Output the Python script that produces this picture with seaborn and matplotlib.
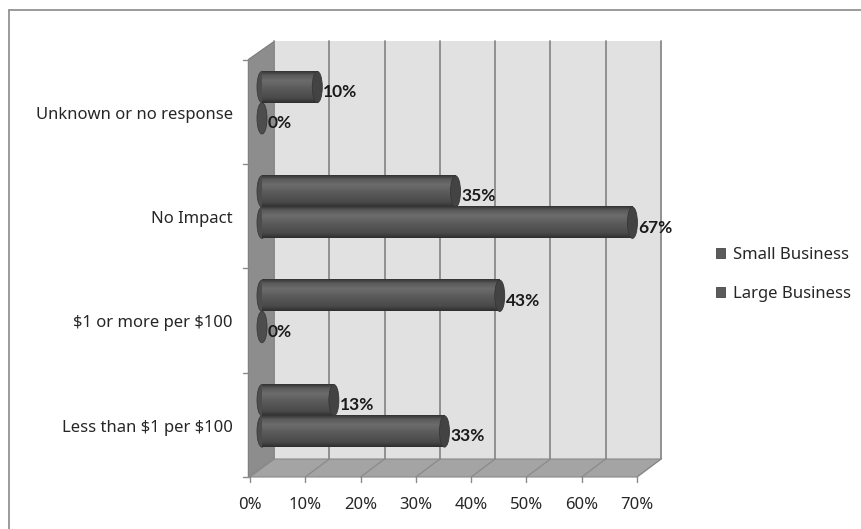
import numpy as np
import pandas as pd
import matplotlib
matplotlib.use("Agg")
import matplotlib.pyplot as plt
import seaborn as sns
from matplotlib.patches import Polygon, Ellipse, Patch
from matplotlib.lines import Line2D
from matplotlib.colors import LinearSegmentedColormap

# ---- data ----
categories = ["Unknown or no response", "No Impact",
              "$1 or more per $100", "Less than $1 per $100"]
series = ["Small Business", "Large Business"]
small_business = [10, 35, 43, 13]
large_business = [0, 67, 0, 33]
x_ticks = [0, 10, 20, 30, 40, 50, 60, 70]

df = pd.DataFrame({
    "category": categories * 2,
    "business": [series[0]] * len(categories) + [series[1]] * len(categories),
    "value": small_business + large_business,
})

sns.set_theme(style="white")
plt.rcParams["font.family"] = ["Noto Sans", "DejaVu Sans"]
FS = 12

W, H = 862, 529
fig = plt.figure(figsize=(W / 100, H / 100), dpi=100)

# middle (bar) plane of the pseudo-3D box, in pixels
x0p, x1p = 262, 649
y0p, y1p = 50.5, 468
ax = fig.add_axes([x0p / W, 1 - y1p / H, (x1p - x0p) / W, (y1p - y0p) / H])

BAR = "#575757"
sns.barplot(data=df, y="category", x="value", hue="business",
            order=categories, hue_order=series, orient="h",
            palette=[BAR, BAR], width=0.6, saturation=1, linewidth=0,
            legend=False, ax=ax)

XMAX = 70
ax.set_xlim(0, XMAX)
ax.set_ylim(3.5, -0.5)
ax.set_axis_off()

sx = (x1p - x0p) / XMAX          # px per percent
sy = (y1p - y0p) / 4             # px per category
DX, DY = 12 / sx, 9 / sy         # half depth of the box in data units


def back(x, y):
    return (x + DX, y - DY)


def front(x, y):
    return (x - DX, y + DY)


kw = dict(clip_on=False)
# back wall
ax.add_patch(Polygon([back(0, -0.5), back(XMAX, -0.5), back(XMAX, 3.5), back(0, 3.5)],
                     closed=True, fc="#e1e1e1", ec="none", zorder=0.1, **kw))
# left side wall
ax.add_patch(Polygon([front(-0.3, -0.5), back(0, -0.5), back(0, 3.5), front(-0.3, 3.5)],
                     closed=True, fc="#8d8d8d", ec="#7c7c7c", lw=0.8, zorder=0.2, **kw))
# floor
ax.add_patch(Polygon([front(-0.3, 3.5), front(XMAX, 3.5), back(XMAX, 3.5), back(0, 3.5)],
                     closed=True, fc="#a4a4a4", ec="#8a8a8a", lw=0.8, zorder=0.2, **kw))
# gridlines on back wall and floor
for v in x_ticks:
    bx0, by0 = back(v, -0.5)
    bx1, by1 = back(v, 3.5)
    ax.add_line(Line2D([bx0, bx1], [by0, by1], color="#8a8a8a", lw=1.3, zorder=0.3, **kw))
    fx, fy = front(v, 3.5)
    ax.add_line(Line2D([fx, bx1], [fy, by1], color="#8a8a8a", lw=0.9, zorder=0.3, **kw))
    # tick mark and label on the front edge
    ax.add_line(Line2D([fx, fx], [fy, fy + 5 / sy], color="#8a8a8a", lw=1, zorder=0.3, **kw))
    ax.annotate(f"{v}%", xy=(fx, fy), xytext=(0, -28), textcoords="offset pixels",
                ha="center", va="center", fontsize=FS, color="#262626",
                annotation_clip=False)

# category tick marks on the side wall
for k in range(len(categories) + 1):
    fx, fy = front(0, -0.5 + k)
    ax.add_line(Line2D([fx - 7 / sx, fx], [fy, fy], color="#8a8a8a", lw=1, zorder=0.3, **kw))

# category labels
for i, cat in enumerate(categories):
    fx, fy = front(0, i)
    ax.annotate(cat, xy=(fx, fy), xytext=(-17, -3), textcoords="offset pixels",
                ha="right", va="center", fontsize=FS, color="#262626",
                parse_math=False, annotation_clip=False)

# cylinder shading
cyl = LinearSegmentedColormap.from_list(
    "cyl", [(0.0, "#333333"), (0.12, "#5a5a5a"), (0.3, "#6c6c6c"),
            (0.55, "#5a5a5a"), (0.85, "#4a4a4a"), (1.0, "#2e2e2e")])
grad = np.linspace(0, 1, 64).reshape(-1, 1)
capw = 10 / sx

for container, vals in zip(ax.containers, [small_business, large_business]):
    for rect, val in zip(container.patches, vals):
        x, y = rect.get_x(), rect.get_y()
        w, h = rect.get_width(), rect.get_height()
        yc = y + h / 2
        ax.add_patch(Ellipse((x, yc), capw, h, fc="#4d4d4d", ec="#3a3a3a",
                             lw=0.6, zorder=2.6, clip_on=False))
        if w > 0:
            ax.imshow(grad, extent=(x, x + w, y + h, y), cmap=cyl, aspect="auto",
                      interpolation="bicubic", zorder=2.7, origin="upper")
            ax.add_patch(Ellipse((x + w, yc), capw, h, fc="#434343", ec="#363636",
                                 lw=0.6, zorder=2.8, clip_on=False))
        ax.annotate(f"{val}%", xy=(x + w, yc), xytext=(6, -5), textcoords="offset pixels",
                    ha="left", va="center", fontsize=12.5, fontweight="bold",
                    family=["Lato", "DejaVu Sans"], color="#1a1a1a",
                    annotation_clip=False)

ax.set_xlim(0, XMAX)
ax.set_ylim(3.5, -0.5)

# legend
handles = [Patch(fc="#5b5b5b", ec="#444444", lw=0.6, label=s) for s in series]
fig.legend(handles=handles, loc="upper left", bbox_to_anchor=(716 / W, 1 - 247 / H),
           frameon=False, handlelength=0.55, handleheight=0.55, handletextpad=0.45,
           labelspacing=1.35, fontsize=FS, borderpad=0, borderaxespad=0)

# chart area border
fig.add_artist(Line2D([9.5 / W, 9.5 / W], [0, 1 - 9.5 / H], color="#8a8a8a", lw=1.2,
                      transform=fig.transFigure))
fig.add_artist(Line2D([9.5 / W, 1], [1 - 9.5 / H, 1 - 9.5 / H], color="#8a8a8a", lw=1.2,
                      transform=fig.transFigure))

fig.savefig("out.png", dpi=100, facecolor="white")
